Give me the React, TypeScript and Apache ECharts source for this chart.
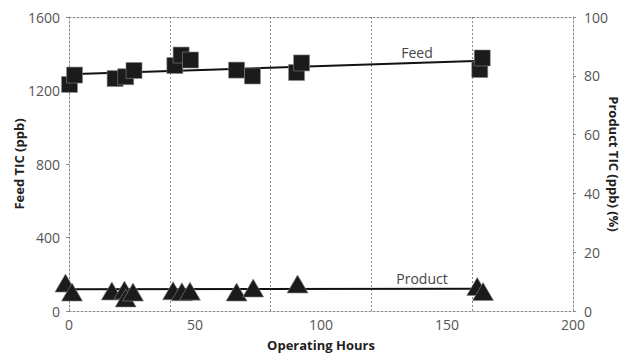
import React, { useEffect, useRef } from "react";
import * as echarts from "echarts";

const feedHours = [0.2, 2.2, 18.3, 22.5, 25.8, 42, 44.5, 48.2, 66.5, 72.8, 90.3, 92.3, 163, 164];
const feedValues = [1233, 1284, 1265, 1275, 1309, 1336, 1393, 1366, 1311, 1279, 1298, 1350, 1314, 1377];
const productHours = [-1.4, 1.2, 17, 22, 22.5, 25.4, 41.3, 44.8, 48, 66.5, 73.1, 90.7, 162, 164.3];
const productValues = [152, 103, 109, 114, 71, 103, 110, 105, 108, 103, 125, 147, 133, 106];
const feedTrendX = [0, 164];
const feedTrendY = [1288, 1362];
const productTrendX = [-1, 163];
const productTrendY = [118, 121];

const FONT = "'Open Sans', sans-serif";
const GRID_COLOR = "#8a8a8a";
const LABEL_COLOR = "#555";

export default function App() {
  const ref = useRef<HTMLDivElement>(null);
  useEffect(() => {
    document.body.style.margin = "0";
    const chart = echarts.init(ref.current!, undefined, { renderer: "svg" });
    const dotted = { color: GRID_COLOR, width: 1, type: [2, 2] as any };
    chart.setOption({
      animation: false,
      textStyle: { fontFamily: FONT },
      grid: { left: 69, right: 50, top: 17, bottom: 43, outerBoundsMode: "none", containLabel: false },
      xAxis: [
        {
          type: "value",
          min: 0,
          max: 200,
          interval: 50,
          position: "bottom",
          name: "Operating Hours",
          nameLocation: "middle",
          nameGap: 27,
          nameMoveOverlap: false,
          nameTextStyle: { fontFamily: FONT, fontSize: 13, fontWeight: "bold", color: "#222" },
          axisLine: { show: true, lineStyle: dotted },
          axisTick: { show: false },
          axisLabel: { fontFamily: FONT, fontSize: 14, color: LABEL_COLOR, margin: 6, formatter: (v: number) => String(v) },
          splitLine: { show: false },
        },
        {
          type: "value",
          min: 0,
          max: 200,
          interval: 40,
          position: "bottom",
          axisLine: { show: false },
          axisTick: { show: false },
          axisLabel: { show: false },
          splitLine: { show: true, lineStyle: dotted },
        },
        {
          type: "value",
          min: 0,
          max: 200,
          position: "top",
          axisLine: { show: true, onZero: false, lineStyle: dotted },
          axisTick: { show: false },
          axisLabel: { show: false },
          splitLine: { show: false },
        },
      ],
      yAxis: [
        {
          type: "value",
          min: 0,
          max: 1600,
          interval: 400,
          position: "left",
          name: "Feed TIC (ppb)",
          nameLocation: "middle",
          nameRotate: 90,
          nameGap: 44,
          nameMoveOverlap: false,
          nameTextStyle: { fontFamily: FONT, fontSize: 13, fontWeight: "bold", color: "#222" },
          axisLine: { show: true, onZero: false, lineStyle: dotted },
          axisTick: { show: true, length: 3, lineStyle: { color: GRID_COLOR } },
          axisLabel: { fontFamily: FONT, fontSize: 14, color: LABEL_COLOR, margin: 9, formatter: (v: number) => String(v) },
          splitLine: { show: false },
        },
        {
          type: "value",
          min: 0,
          max: 100,
          interval: 20,
          position: "right",
          name: "Product TIC (ppb) (%)",
          nameLocation: "middle",
          nameRotate: -90,
          nameGap: 34,
          nameMoveOverlap: false,
          nameTextStyle: { fontFamily: FONT, fontSize: 13, fontWeight: "bold", color: "#222" },
          axisLine: { show: true, onZero: false, lineStyle: dotted },
          axisTick: { show: true, length: 3, lineStyle: { color: GRID_COLOR } },
          axisLabel: { fontFamily: FONT, fontSize: 14, color: LABEL_COLOR, margin: 11, formatter: (v: number) => String(v) },
          splitLine: { show: false },
        },
      ],
      series: [
        {
          type: "line",
          xAxisIndex: 0,
          yAxisIndex: 0,
          data: feedTrendX.map((x, i) => [x, feedTrendY[i]]),
          showSymbol: false,
          clip: false,
          lineStyle: { color: "#111", width: 2 },
          z: 1,
        },
        {
          type: "line",
          xAxisIndex: 0,
          yAxisIndex: 0,
          data: productTrendX.map((x, i) => [x, productTrendY[i]]),
          showSymbol: false,
          clip: false,
          lineStyle: { color: "#111", width: 2 },
          z: 1,
        },
        {
          type: "scatter",
          xAxisIndex: 0,
          yAxisIndex: 0,
          data: feedHours.map((x, i) => [x, feedValues[i]]),
          symbol: "rect",
          symbolSize: 16,
          clip: false,
          itemStyle: { color: "#1b1b1b", borderColor: "#888", borderWidth: 0.6, opacity: 1 },
          z: 2,
        },
        {
          type: "scatter",
          xAxisIndex: 0,
          yAxisIndex: 0,
          data: productHours.map((x, i) => [x, productValues[i]]),
          symbol: "triangle",
          symbolSize: [21, 18],
          clip: false,
          itemStyle: { color: "#1b1b1b", borderColor: "#888", borderWidth: 0.6, opacity: 1 },
          z: 2,
        },
      ],
      graphic: [
        {
          type: "text",
          x: 417,
          y: 52,
          style: { text: "Feed", fontFamily: FONT, fontSize: 14, fill: "#444", align: "center", verticalAlign: "middle" },
        },
        {
          type: "text",
          x: 422,
          y: 278,
          style: { text: "Product", fontFamily: FONT, fontSize: 14, fill: "#444", align: "center", verticalAlign: "middle" },
        },
      ],
    });
    return () => chart.dispose();
  }, []);
  return <div ref={ref} style={{ width: 623, height: 354 }} />;
}
